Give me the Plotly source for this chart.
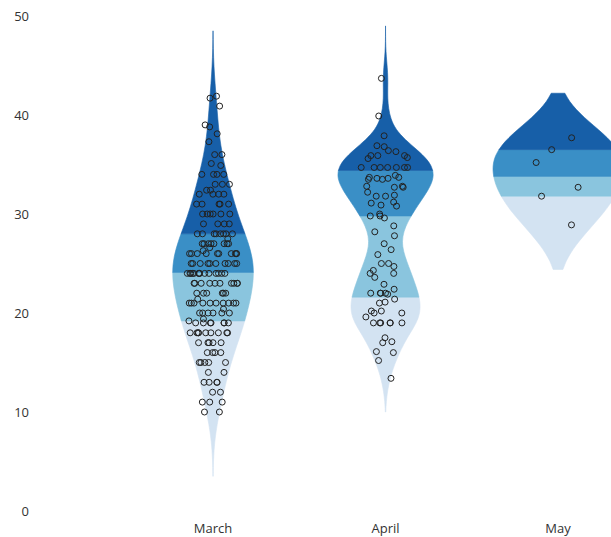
import plotly.graph_objects as go

categories = ["March", "April", "May"]

march = [41.7, 41.9, 40.9, 39.0, 38.8, 38.1, 37.3, 36.0, 36.0, 34.9, 35.1,
         34, 34, 34, 34, 33, 33, 33, 32.4, 32.4, 32, 32, 32, 32,
         31, 31, 31, 31, 31,
         30, 30, 30, 30, 30, 30,
         29, 29, 29, 29,
         28, 28, 28, 28, 28, 28, 28, 28, 27.5,
         27, 27, 27, 27, 27, 27, 27, 27, 26.6, 26.3,
         26, 26, 26, 26, 26, 26, 26, 26, 26, 26,
         25, 25, 25, 25, 25, 25, 25, 25, 25, 25,
         24, 24, 24, 24, 24, 24, 24, 24, 24, 24, 24, 24, 24, 24,
         23, 23, 23, 23, 23, 23, 23, 23, 23, 23,
         22, 22, 22, 22, 22, 22, 21.4,
         21, 21, 21, 21, 21, 21, 21, 21, 21, 21, 20.4,
         20, 20, 20, 20, 20, 20, 19.4, 19.2,
         19, 19, 19, 19, 19, 19, 19,
         18, 18, 18, 18, 18, 18, 18, 18, 18,
         17, 17, 17, 17, 17,
         16, 16, 16, 16,
         15, 15, 15, 15, 15,
         14, 14,
         13, 13, 13, 13,
         12, 12,
         11, 11, 11,
         10, 10]

april = [43.7, 39.9, 37.9, 36.8, 36.9, 36.3, 36.4, 35.9, 35.7, 35.6, 35.9, 35.9,
         34.7, 34.7, 34.7, 34.7, 34.7, 34.7, 34.7,
         33.9, 33.7, 33.6, 33.5, 33.7, 33.6, 33.5,
         32.8, 32.2, 31.9, 32.8, 32.7, 32.7, 31.8, 31.8,
         31.2, 30.9, 31.1, 30.8,
         29.8, 29.8, 29.6, 30.0,
         28.8, 28.2, 27.8, 27.0, 26.4, 25.9,
         25.0, 25.0, 24.7, 24.3, 24.0, 24.0, 23.6,
         22.9, 22.4, 22.0, 21.9, 22.0, 22.0, 22.0,
         21.4, 21.0, 21.1,
         20.2, 20.0, 20.0, 20.2,
         19.6, 19.0, 19.0, 19.0, 19.0, 19.0, 19.0,
         17.5, 17.0, 17.1, 16.0, 16.1, 15.2, 13.4]

may = [37.7, 36.5, 35.2, 32.7, 31.8, 28.9]

series = [march, april, may]

# quartile band boundaries
quartiles = [[19.2, 24.1, 28.0],
             [21.6, 29.8, 34.4],
             [31.8, 33.8, 36.5]]

# vertical extent of each density shape
extents = [[3.5, 48.5], [10.0, 49.0], [24.4, 42.2]]

# kernel bandwidth of each density shape
bandwidths = [2.7, 1.6, 2.7]

band_colors = ["#d3e3f2", "#8ac5de", "#3a8fc6", "#175fa8"]

fig = go.Figure()

for cat, vals, qs, ext, bw in zip(categories, series, quartiles, extents, bandwidths):
    bounds = [ext[0]] + qs + [ext[1]]
    for k in range(4):
        fig.add_trace(go.Violin(
            x=[cat] * len(vals), y=vals,
            bandwidth=bw,
            spanmode="manual", span=[bounds[k], bounds[k + 1]],
            scalegroup="all", scalemode="width",
            fillcolor=band_colors[k],
            line=dict(width=0.6, color=band_colors[k]),
            points=False, box_visible=False, meanline_visible=False,
            hoverinfo="skip", showlegend=False,
        ))

for cat, vals in zip(categories, series):
    fig.add_trace(go.Box(
        x=[cat] * len(vals), y=vals,
        boxpoints="all", jitter=1, pointpos=0, width=0.3,
        fillcolor="rgba(0,0,0,0)", line=dict(width=0, color="rgba(0,0,0,0)"),
        marker=dict(symbol="circle-open", size=6, color="#222222",
                    line=dict(width=1)),
        showlegend=False, hoverinfo="y",
    ))

fig.update_layout(
    width=611, height=537,
    margin=dict(l=30, r=0, t=16, b=26, autoexpand=False),
    paper_bgcolor="white", plot_bgcolor="white",
    violinmode="overlay", boxmode="overlay",
    violingap=0, violingroupgap=0.246,
    font=dict(family="Open Sans", size=13, color="#333333"),
    showlegend=False,
)
fig.update_xaxes(range=[-1.061, 2.307], showgrid=False, zeroline=False,
                 showline=False, ticks="", tickfont=dict(size=13),
                 ticklabelstandoff=8, automargin=False)
fig.update_yaxes(range=[0, 50], tickvals=[0, 10, 20, 30, 40, 50],
                 showgrid=False, zeroline=False, showline=False, ticks="",
                 tickfont=dict(size=13), automargin=False)

fig.write_html("out.html")
